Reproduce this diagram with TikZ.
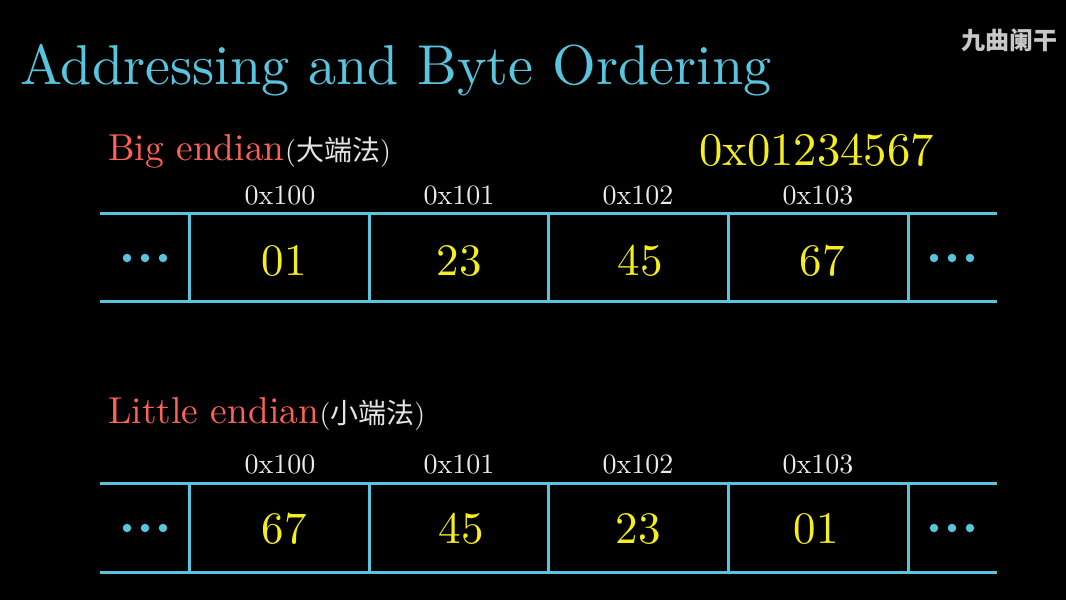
\documentclass[tikz,border=0pt]{standalone}
\usepackage{fontspec}
\setmainfont{lmroman10-regular.otf}
\newfontfamily\cjk{Noto Sans CJK SC}
\definecolor{blueC}{HTML}{58C4DD}
\definecolor{redC}{HTML}{FC6255}
\definecolor{yel}{RGB}{245,238,30}
\definecolor{wm}{RGB}{200,200,200}
\begin{document}
\begin{tikzpicture}[x=1pt,y=-1pt,
  grid/.style={draw=blueC, line width=3pt},
  dotc/.style={fill=blueC, circle, inner sep=0pt, minimum size=8.5pt},
  addr/.style={text=white!92!black, font=\fontsize{28}{28}\selectfont, anchor=base, inner sep=0pt},
  val/.style={text=yel, font=\fontsize{45}{45}\selectfont, anchor=base, inner sep=0pt},
  lbl/.style={text=redC, font=\fontsize{37.5}{37.5}\selectfont, anchor=base west, inner sep=0pt},
  cjkpart/.style={text=white!90!black, font=\fontsize{28}{28}\selectfont, anchor=base west, inner sep=0pt}]
\path[use as bounding box, fill=black] (0,0) rectangle (1066,600);

% title and watermark
\node[text=blueC, font=\fontsize{56.2}{56.2}\selectfont, anchor=base west, inner sep=0pt] (title) at (20,84) {Addressing and Byte Ordering};
\node[text=wm, font=\cjk\bfseries\fontsize{24}{24}\selectfont, anchor=base east, inner sep=0pt] (mark) at (1058,49) {九曲阑干};

% value
\node[text=yel, font=\fontsize{46.7}{46.7}\selectfont, anchor=base west, inner sep=0pt] (word) at (699,165) {0x01234567};

% ---------- Big endian ----------
\node[lbl] (bigl) at (108,160) {Big endian};
\node[cjkpart] (bigc) at (bigl.base east) {(\cjk 大端法\rmfamily)};

\draw[grid] (100,213) -- (997,213);
\draw[grid] (100,301) -- (997,301);
\foreach \x in {189,369,548,728,908} \draw[grid] (\x,213) -- (\x,301);

\node[addr] (ba0) at (280,204) {0x100};
\node[addr] (ba1) at (459,204) {0x101};
\node[addr] (ba2) at (638,204) {0x102};
\node[addr] (ba3) at (818,204) {0x103};

\node[val] (bv0) at (284,275) {01};
\node[val] (bv1) at (459,275) {23};
\node[val] (bv2) at (640,275) {45};
\node[val] (bv3) at (822,275) {67};

\foreach \x in {127,145,163,934,952,970} \node[dotc] at (\x,258) {};

% ---------- Little endian ----------
\node[lbl] (litl) at (108,423) {Little endian};
\node[cjkpart] (litc) at (litl.base east) {(\cjk 小端法\rmfamily)};

\draw[grid] (100,483) -- (997,483);
\draw[grid] (100,572) -- (997,572);
\foreach \x in {189,369,548,728,908} \draw[grid] (\x,483) -- (\x,572);

\node[addr] (la0) at (280,473) {0x100};
\node[addr] (la1) at (459,473) {0x101};
\node[addr] (la2) at (638,473) {0x102};
\node[addr] (la3) at (818,473) {0x103};

\node[val] (lv0) at (284,543) {67};
\node[val] (lv1) at (461,543) {45};
\node[val] (lv2) at (638,543) {23};
\node[val] (lv3) at (816,543) {01};

\foreach \x in {127,145,163,934,952,970} \node[dotc] at (\x,528) {};
\end{tikzpicture}
\end{document}
